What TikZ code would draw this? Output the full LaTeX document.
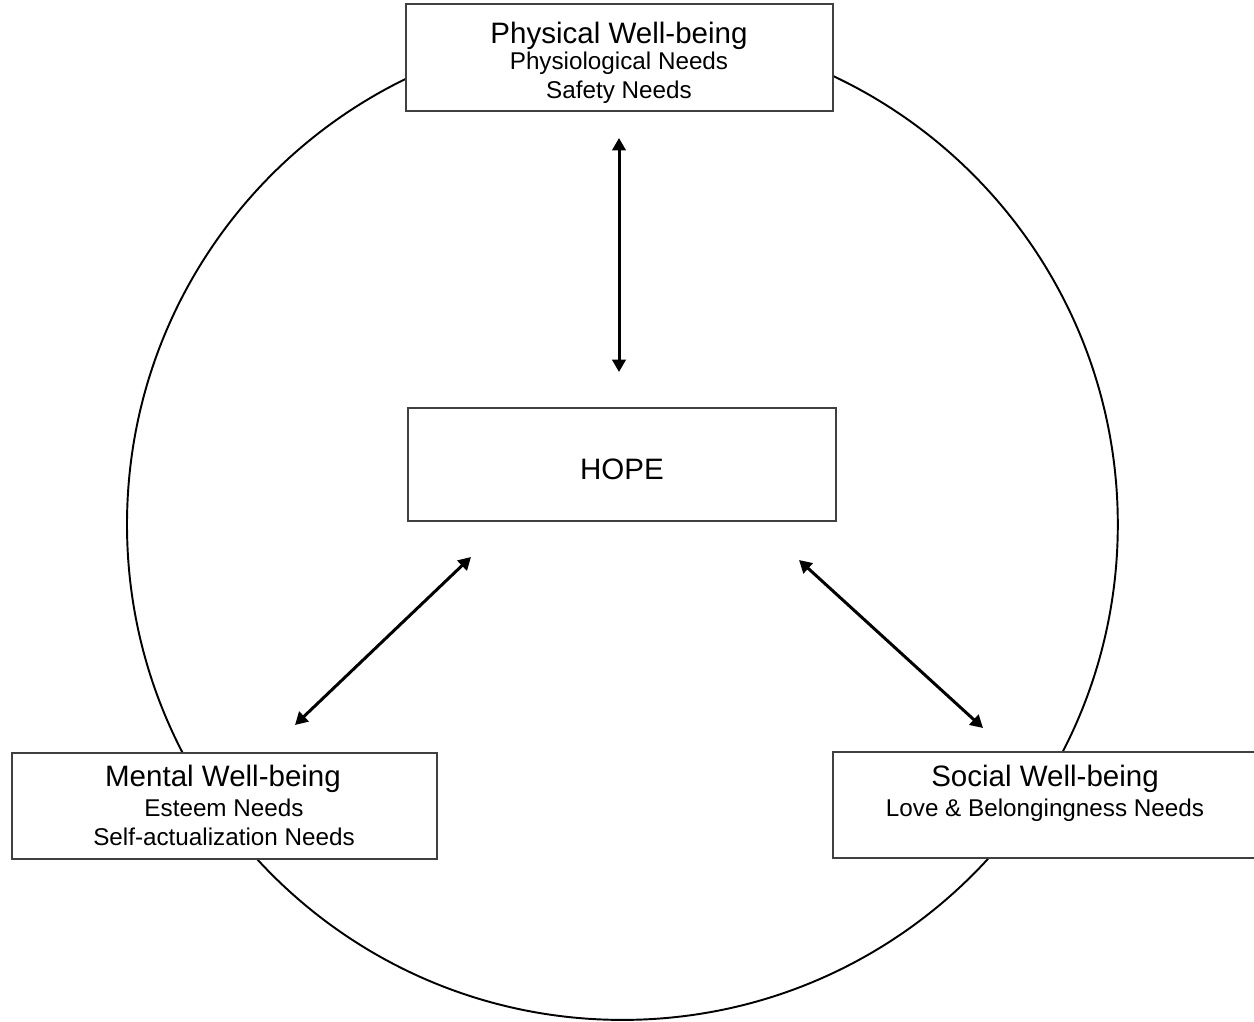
\documentclass[tikz,border=0pt]{standalone}
\usepackage{fontspec}
\setmainfont{Liberation Sans}
\usetikzlibrary{arrows.meta}
\tikzset{
  box/.style={draw=black!75, line width=0.7pt, fill=white, rectangle, inner sep=0pt},
  ttl/.style={anchor=base, font=\fontsize{16.8}{20}\selectfont, inner sep=0pt},
  sub/.style={anchor=base, font=\fontsize{13.8}{17}\selectfont, inner sep=0pt},
  link/.style={line width=1.7pt, {Triangle[width=0.27cm,length=0.25cm]}-{Triangle[width=0.27cm,length=0.25cm]}},
  ring/.style={draw=black, line width=1.1pt}
}
\begin{document}
\begin{tikzpicture}[x=0.02cm,y=-0.02cm]
\useasboundingbox (0,0) rectangle (1254,1021);
\node[ring, circle, minimum size=19.82cm, inner sep=0pt] (ring) at (622.4,524.5) {};
% boxes
\node[box, minimum width=8.54cm, minimum height=2.14cm] (phys) at (619.5,57.5) {};
\node[box, minimum width=8.56cm, minimum height=2.26cm] (hope) at (622,464.5) {};
\node[box, minimum width=8.50cm, minimum height=2.12cm] (ment) at (224.5,806) {};
\node[box, minimum width=8.50cm, minimum height=2.12cm] (soc) at (1045.5,805) {};
% texts
\node[ttl] (physT) at (619,43) {Physical Well-being};
\node[sub] (physA) at (619,69.5) {Physiological Needs};
\node[sub] (physB) at (619,98.5) {Safety Needs};
\node[ttl] (hopeT) at (622,479) {HOPE};
\node[ttl] (mentT) at (223,786.5) {Mental Well-being};
\node[sub] (mentA) at (224,816) {Esteem Needs};
\node[sub] (mentB) at (224,845) {Self-actualization Needs};
\node[ttl] (socT) at (1045,786.5) {Social Well-being};
\node[sub] (socA) at (1045,816) {Love \& Belongingness Needs};
% arrow ends
\coordinate (a1) at (619,138);
\coordinate (a2) at (619,372);
\coordinate (b1) at (471,557);
\coordinate (b2) at (295,725);
\coordinate (c1) at (799,560);
\coordinate (c2) at (983,728);
\draw[link] (a1) -- (a2);
\draw[link] (b1) -- (b2);
\draw[link] (c1) -- (c2);
\end{tikzpicture}
\end{document}
